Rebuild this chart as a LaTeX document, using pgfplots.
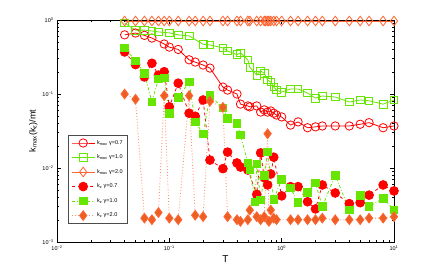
\documentclass[border=0pt]{standalone}
\usepackage{pgfplots}
\pgfplotsset{compat=1.18}
\usepackage{fontspec}
\setmainfont{Liberation Sans}
\definecolor{cR}{RGB}{255,0,0}
\definecolor{cG}{RGB}{102,230,0}
\definecolor{cO}{RGB}{255,100,50}
\definecolor{cOd}{RGB}{235,95,35}
\begin{document}
\begin{tikzpicture}[x=1pt,y=1pt]
\useasboundingbox (0,0) rectangle (436,273);
\begin{axis}[
  at={(57pt,31pt)}, anchor=south west,
  scale only axis, width=337pt, height=222pt,
  xmode=log, ymode=log,
  xmin=0.01, xmax=10, ymin=0.001, ymax=1,
  clip=false,
  tick align=inside,
  major tick length=4pt, minor tick length=2pt,
  tick style={black, line width=0.4pt},
  axis line style={black, line width=0.6pt},
  xtick={0.01,0.1,1,10},
  xticklabels={10\textsuperscript{−2},10\textsuperscript{−1},10\textsuperscript{0},10\textsuperscript{1}},
  ytick={0.001,0.01,0.1,1},
  yticklabels={10\textsuperscript{−3},10\textsuperscript{−2},10\textsuperscript{−1},10\textsuperscript{0}},
  ticklabel style={font=\fontsize{5.5}{6.5}\selectfont},
  xlabel={T}, ylabel={k\textsubscript{max}(k\textsubscript{ε})/mt},
  xlabel style={font=\fontsize{10}{12}\selectfont, yshift=2pt},
  ylabel style={font=\fontsize{9}{11}\selectfont, yshift=-2pt},
  legend style={at={(0.033,0.482)}, anchor=north west, draw=black!70, line width=0.5pt,
    font=\fontsize{5.5}{6.5}\selectfont, row sep=5pt, inner sep=3pt, fill=white},
  legend cell align=left,
  legend image code/.code={\draw[mark repeat=2,mark phase=2] plot coordinates {(0cm,0cm) (0.4cm,0cm) (0.8cm,0cm)};},
]
% kmax gamma=0.7
\addplot[cR, line width=0.8pt, mark=o, mark size=4.2pt, mark options={line width=0.8pt}] coordinates {
(0.04,0.63)(0.05,0.667)(0.06,0.62)(0.07,0.57)(0.09,0.474)(0.1,0.43)(0.12,0.40)(0.15,0.29)(0.17,0.27)(0.2,0.246)(0.23,0.224)
(0.3,0.124)(0.33,0.113)(0.4,0.1)(0.43,0.073)(0.5,0.069)(0.52,0.067)(0.6,0.069)(0.65,0.057)(0.7,0.061)(0.75,0.057)(0.8,0.059)
(0.85,0.055)(0.9,0.052)(1.0,0.049)(1.2,0.038)(1.4,0.042)(1.7,0.035)(2,0.036)(2.3,0.037)(3,0.037)(4,0.037)(5,0.039)(6,0.041)(8,0.035)(10,0.037)};
\addlegendentry{k\textsubscript{max} γ=0.7}
% kmax gamma=1.0
\addplot[cG, line width=0.8pt, mark=square, mark size=3.8pt, mark options={line width=0.8pt}] coordinates {
(0.04,0.91)(0.05,0.73)(0.06,0.73)(0.07,0.71)(0.08,0.69)(0.1,0.67)(0.12,0.63)(0.15,0.61)(0.2,0.47)(0.23,0.46)(0.3,0.42)
(0.33,0.38)(0.4,0.34)(0.43,0.36)(0.5,0.29)(0.52,0.23)(0.6,0.18)(0.65,0.205)(0.7,0.19)(0.75,0.155)(0.8,0.145)(0.85,0.124)
(0.9,0.113)(1.0,0.106)(1.2,0.117)(1.4,0.117)(1.7,0.103)(2,0.088)(2.3,0.094)(3,0.091)(4,0.078)(5,0.083)(6,0.081)(8,0.073)(10,0.083)};
\addlegendentry{k\textsubscript{max} γ=1.0}
% kmax gamma=2.0
\addplot[cO, line width=0.8pt, mark=diamond, mark size=4.8pt, mark options={line width=0.8pt}] coordinates {
(0.04,0.97)(0.05,0.97)(0.06,0.97)(0.07,0.97)(0.08,0.97)(0.09,0.97)(0.1,0.97)(0.12,0.97)(0.15,0.97)(0.17,0.97)(0.2,0.97)
(0.23,0.97)(0.3,0.97)(0.33,0.97)(0.4,0.97)(0.43,0.97)(0.5,0.97)(0.52,0.97)(0.6,0.97)(0.65,0.97)(0.7,0.97)(0.72,0.97)
(0.75,0.97)(0.77,0.97)(0.8,0.97)(0.85,0.97)(0.9,0.97)(1.0,0.97)(1.2,0.97)(1.4,0.97)(1.7,0.97)(2,0.97)(2.3,0.97)(3,0.97)
(4,0.97)(5,0.97)(6,0.97)(8,0.97)(10,0.97)};
\addlegendentry{k\textsubscript{max} γ=2.0}
% kz gamma=0.7
\addplot[cR, line width=0.8pt, dashed, mark=*, mark size=4.4pt, mark options={solid, fill=cR}] coordinates {
(0.04,0.37)(0.05,0.25)(0.06,0.17)(0.07,0.26)(0.08,0.18)(0.09,0.2)(0.1,0.067)(0.12,0.14)(0.15,0.055)(0.17,0.05)(0.2,0.083)
(0.23,0.0128)(0.3,0.0098)(0.33,0.0164)(0.4,0.0117)(0.43,0.0103)(0.5,0.0094)(0.6,0.0044)(0.65,0.016)(0.7,0.0074)(0.75,0.0059)
(0.8,0.0083)(0.85,0.014)(1.0,0.0042)(1.2,0.0056)(1.4,0.0056)(1.7,0.0035)(2,0.0028)(2.3,0.0059)(3,0.0046)(4,0.0033)(5,0.0034)
(6,0.0043)(8,0.0059)(10,0.0049)};
\addlegendentry{k\textsubscript{z} γ=0.7}
% kz gamma=1.0
\addplot[cG, line width=0.8pt, dash dot, mark=square*, mark size=3.8pt, mark options={solid, fill=cG}] coordinates {
(0.04,0.42)(0.05,0.28)(0.06,0.19)(0.07,0.078)(0.08,0.16)(0.09,0.165)(0.1,0.055)(0.12,0.09)(0.15,0.145)(0.17,0.042)(0.2,0.029)
(0.23,0.095)(0.3,0.065)(0.33,0.047)(0.4,0.04)(0.43,0.028)(0.5,0.0117)(0.52,0.0094)(0.58,0.0035)(0.6,0.0113)(0.65,0.0037)
(0.7,0.008)(0.75,0.0165)(0.85,0.0038)(1.0,0.007)(1.2,0.0054)(1.4,0.0034)(1.7,0.0047)(2,0.0063)(2.3,0.003)(3,0.008)(4,0.0027)
(5,0.0043)(6,0.003)(8,0.0039)(10,0.0027)};
\addlegendentry{k\textsubscript{z} γ=1.0}
% kz gamma=2.0
\addplot[cO!70, line width=0.9pt, dotted, mark=diamond*, mark size=4.8pt, mark options={solid, fill=cOd, draw=cO}] coordinates {
(0.04,0.1)(0.05,0.085)(0.06,0.0021)(0.07,0.002)(0.08,0.0025)(0.09,0.095)(0.1,0.0021)(0.12,0.002)(0.15,0.095)(0.17,0.0023)
(0.2,0.0022)(0.23,0.08)(0.3,0.066)(0.33,0.0022)(0.4,0.002)(0.43,0.0019)(0.5,0.002)(0.52,0.0027)(0.6,0.0022)(0.65,0.002)
(0.7,0.0022)(0.75,0.029)(0.77,0.0019)(0.8,0.0027)(0.85,0.0021)(0.9,0.002)(1.2,0.002)(1.4,0.002)(1.7,0.002)(2,0.002)
(2.3,0.0021)(3,0.002)(4,0.002)(5,0.002)(6,0.0021)(8,0.0021)(10,0.0022)};
\addlegendentry{k\textsubscript{z} γ=2.0}
\end{axis}
\end{tikzpicture}
\end{document}
